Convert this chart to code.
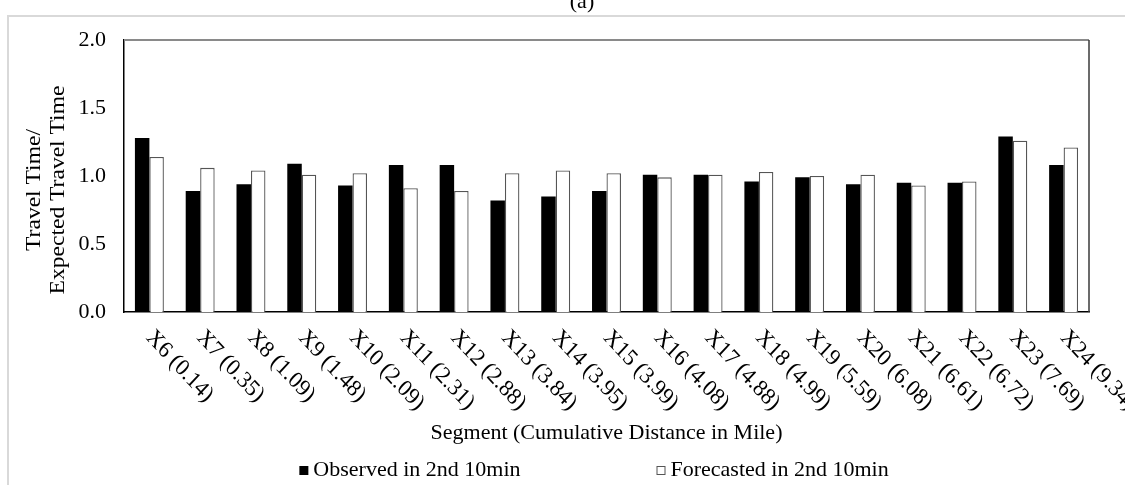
<!DOCTYPE html>
<html>
<head>
<meta charset="utf-8">
<script src="https://cdn.jsdelivr.net/npm/chart.js@4.4.1/dist/chart.umd.min.js"></script>
<style>
  html, body { margin: 0; padding: 0; background: #fff; overflow: hidden; }
  #frame {
    position: absolute; left: 7px; top: 15px;
    width: 1200px; height: 500px;
    border: 2px solid #d9d9d9;
  }
  #chart { position: absolute; left: 0; top: 0; z-index: 1; }
</style>
</head>
<body>
<div id="frame"></div>
<canvas id="chart" width="1184" height="485" style="width:1184px;height:485px"></canvas>
<script>
// === DATA ===
const segments = [
  'X6 (0.14)', 'X7 (0.35)', 'X8 (1.09)', 'X9 (1.48)', 'X10 (2.09)',
  'X11 (2.31)', 'X12 (2.88)', 'X13 (3.84)', 'X14 (3.95)', 'X15 (3.99)',
  'X16 (4.08)', 'X17 (4.88)', 'X18 (4.99)', 'X19 (5.59)', 'X20 (6.08)',
  'X21 (6.61)', 'X22 (6.72)', 'X23 (7.69)', 'X24 (9.34)'
];
const observed = [
  1.28, 0.89, 0.94, 1.09, 0.93, 1.08, 1.08, 0.82, 0.85, 0.89,
  1.01, 1.01, 0.96, 0.99, 0.94, 0.95, 0.95, 1.29, 1.08
];
const forecasted = [
  1.14, 1.06, 1.04, 1.01, 1.02, 0.91, 0.89, 1.02, 1.04, 1.02,
  0.99, 1.01, 1.03, 1.00, 1.01, 0.93, 0.96, 1.26, 1.21
];
const yTicks = [0, 0.5, 1.0, 1.5, 2.0];
const yTitle = ['Travel Time/', 'Expected Travel Time'];
const xTitle = 'Segment (Cumulative Distance in Mile)';
const panelLabel = '(a)';

// === STYLE ===
const FONT = "'Liberation Serif', 'Times New Roman', serif";
const FONT_SIZE = 22;
const TEXT_STRETCH = 1.07;   // serif text is drawn slightly tall
const CANVAS_H = 485;
const PLOT_LEFT = 124;
const PLOT_TOP = 40;
const PLOT_BOTTOM = 312;
const PLOT_RIGHT_PAD = 95;

// box around the plot area: gray top edge, dark right edge
const plotFrame = {
  id: 'plotFrame',
  beforeDatasetsDraw(chart) {
    const { ctx, chartArea: a } = chart;
    ctx.save();
    ctx.lineWidth = 2;
    ctx.strokeStyle = '#8a8a8a';
    ctx.beginPath();
    ctx.moveTo(a.left, a.top);
    ctx.lineTo(a.right, a.top);
    ctx.stroke();
    ctx.lineWidth = 1.5;
    ctx.strokeStyle = '#3a3a3a';
    ctx.beginPath();
    ctx.moveTo(a.right, a.top);
    ctx.lineTo(a.right, a.bottom);
    ctx.stroke();
    ctx.restore();
  }
};

// x tick labels, rotated 45deg clockwise and hanging from the tick
const segmentLabels = {
  id: 'segmentLabels',
  afterDraw(chart) {
    const { ctx } = chart;
    const x = chart.scales.x;
    ctx.save();
    ctx.font = `${FONT_SIZE}px ${FONT}`;
    ctx.fillStyle = '#000';
    ctx.textAlign = 'left';
    ctx.textBaseline = 'middle';
    segments.forEach((label, i) => {
      ctx.save();
      ctx.translate(x.getPixelForTick(i), x.top + 22);
      ctx.scale(1, TEXT_STRETCH);
      ctx.rotate(Math.PI / 4);
      ctx.fillText(label, 0, 0);
      ctx.restore();
    });
    ctx.restore();
  }
};

// two-line y title and the panel letter
const sideTexts = {
  id: 'sideTexts',
  afterDraw(chart) {
    const { ctx, chartArea: a } = chart;
    ctx.save();
    ctx.font = `${FONT_SIZE}px ${FONT}`;
    ctx.fillStyle = '#000';
    ctx.textAlign = 'center';
    ctx.textBaseline = 'middle';
    const cy = (a.top + a.bottom) / 2 + 14;
    yTitle.forEach((line, i) => {
      ctx.save();
      ctx.translate(a.left - 90 + i * 24, cy);
      ctx.scale(1, TEXT_STRETCH);
      ctx.rotate(-Math.PI / 2);
      ctx.fillText(line, 0, 0);
      ctx.restore();
    });
    ctx.textBaseline = 'alphabetic';
    ctx.fillText(panelLabel, 582, 8);
    ctx.restore();
  }
};

// legend row under the axis title
const legendRow = {
  id: 'legendRow',
  afterDraw(chart) {
    const { ctx } = chart;
    const sets = chart.data.datasets;
    const box = 9, gapIn = 5, gapOut = 136;
    ctx.save();
    ctx.font = `${FONT_SIZE}px ${FONT}`;
    const widths = sets.map(ds => box + gapIn + ctx.measureText(ds.label).width);
    const total = widths.reduce((s, w) => s + w, 0) + gapOut * (sets.length - 1);
    let left = chart.width / 2 - total / 2 + 2;
    const baseY = 476;
    sets.forEach((ds, i) => {
      ctx.fillStyle = ds.backgroundColor;
      ctx.fillRect(left, baseY - 10, box, box);
      if (ds.borderWidth) {
        ctx.lineWidth = 1;
        ctx.strokeStyle = ds.borderColor;
        ctx.strokeRect(left + 0.5, baseY - 9.5, box - 1, box - 1);
      }
      ctx.fillStyle = '#000';
      ctx.textAlign = 'left';
      ctx.textBaseline = 'alphabetic';
      ctx.fillText(ds.label, left + box + gapIn, baseY);
      left += widths[i] + gapOut;
    });
    ctx.restore();
  }
};

new window.Chart(document.getElementById('chart').getContext('2d'), {
  type: 'bar',
  data: {
    labels: segments,
    datasets: [
      {
        label: 'Observed in 2nd 10min',
        data: observed,
        backgroundColor: '#000000',
        borderWidth: 0,
        categoryPercentage: 0.57,
        barPercentage: 1
      },
      {
        label: 'Forecasted in 2nd 10min',
        data: forecasted,
        backgroundColor: '#ffffff',
        borderColor: '#555555',
        borderWidth: 1.3,
        borderSkipped: 'bottom',
        categoryPercentage: 0.57,
        barPercentage: 1
      }
    ]
  },
  options: {
    responsive: false,
    animation: false,
    devicePixelRatio: 1,
    layout: { padding: { top: PLOT_TOP, left: 0, right: PLOT_RIGHT_PAD, bottom: 0 } },
    plugins: {
      legend: { display: false },
      tooltip: { enabled: false },
      title: { display: false }
    },
    scales: {
      x: {
        grid: { display: false, drawTicks: false },
        border: { display: true, color: '#000', width: 1.5 },
        ticks: { display: false },
        title: {
          display: true,
          text: xTitle,
          color: '#000',
          font: { family: FONT, size: FONT_SIZE },
          padding: { top: 0, bottom: 39 }
        },
        afterFit: s => { s.height = CANVAS_H - PLOT_BOTTOM; }
      },
      y: {
        min: 0,
        max: 2,
        grid: { display: false, drawTicks: false },
        border: { display: true, color: '#000', width: 1.5 },
        afterBuildTicks: s => { s.ticks = yTicks.map(v => ({ value: v })); },
        ticks: {
          color: '#000',
          padding: 18,
          font: { family: FONT, size: FONT_SIZE },
          callback: v => Number(v).toFixed(1)
        },
        afterFit: s => { s.width = PLOT_LEFT; }
      }
    }
  },
  plugins: [plotFrame, segmentLabels, sideTexts, legendRow]
});
</script>
</body>
</html>
